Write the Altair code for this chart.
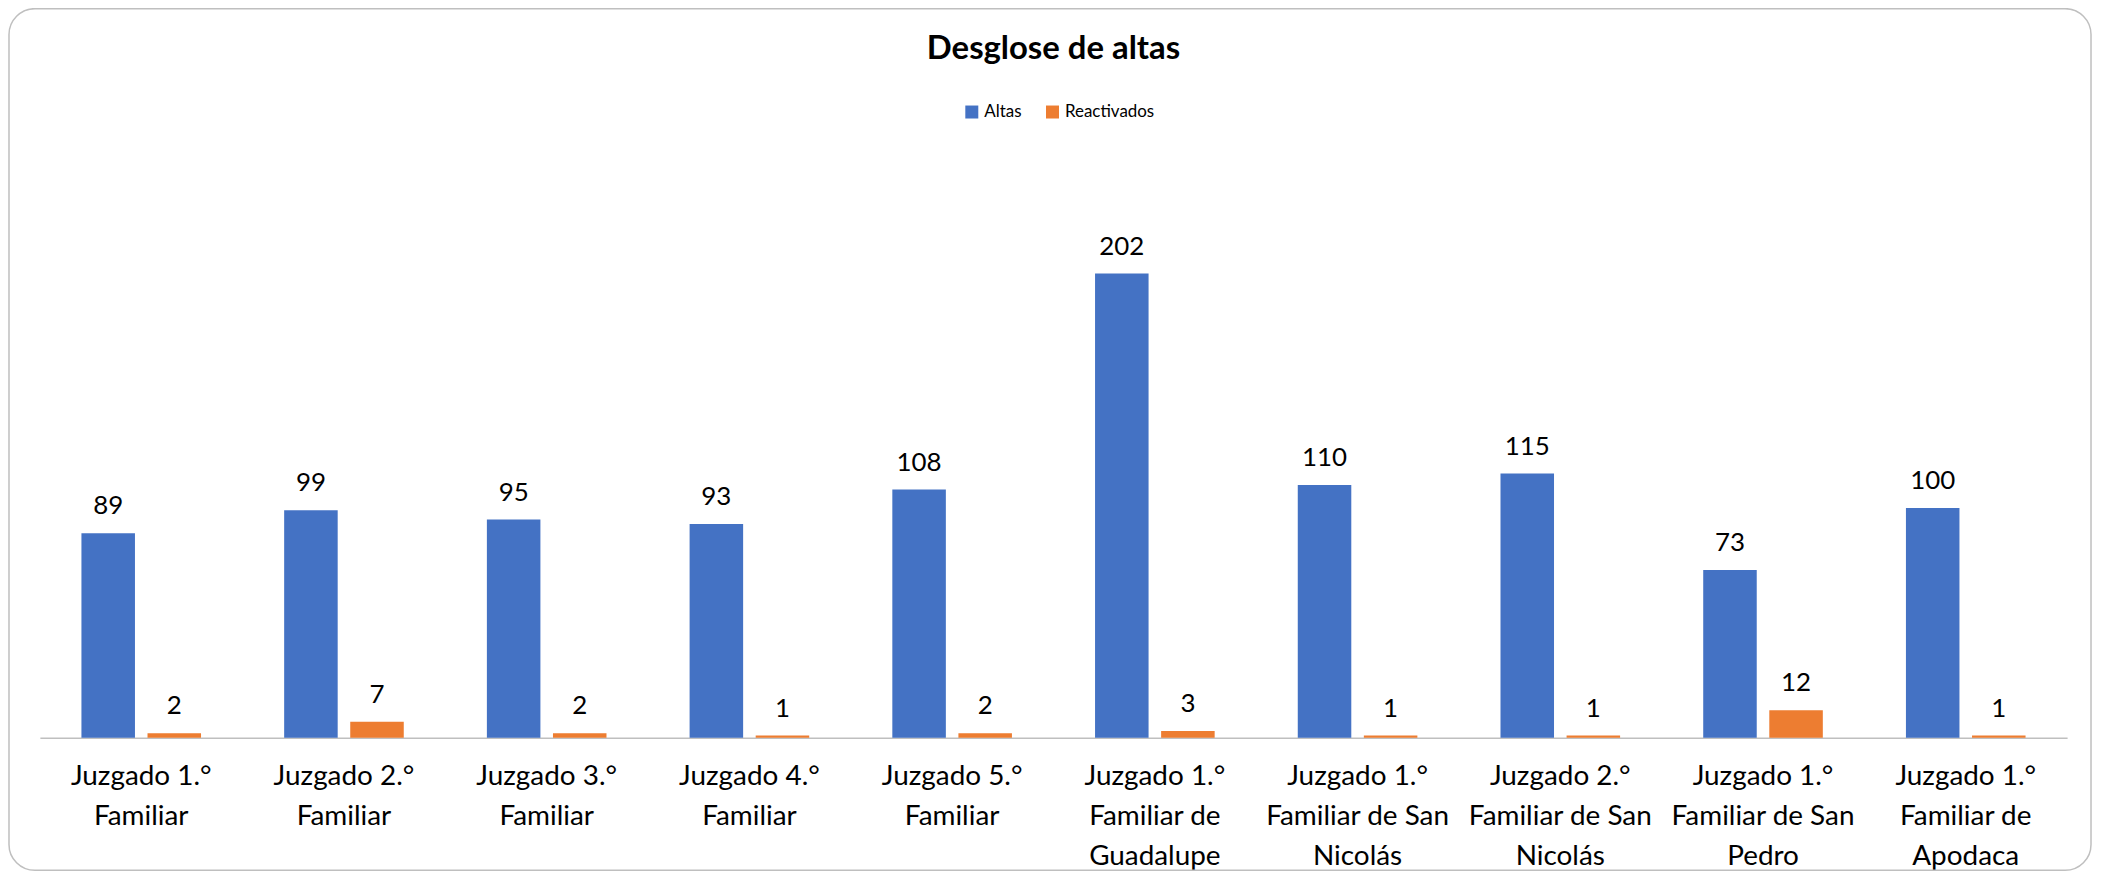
import altair as alt
import pandas as pd

categorias = [
    "Juzgado 1.°|Familiar",
    "Juzgado 2.°|Familiar",
    "Juzgado 3.°|Familiar",
    "Juzgado 4.°|Familiar",
    "Juzgado 5.°|Familiar",
    "Juzgado 1.°|Familiar de|Guadalupe",
    "Juzgado 1.°|Familiar de San|Nicolás",
    "Juzgado 2.°|Familiar de San|Nicolás",
    "Juzgado 1.°|Familiar de San|Pedro",
    "Juzgado 1.°|Familiar de|Apodaca",
]
altas = [89, 99, 95, 93, 108, 202, 110, 115, 73, 100]
reactivados = [2, 7, 2, 1, 2, 3, 1, 1, 12, 1]
series = ["Altas", "Reactivados"]
colores = ["#4472C4", "#ED7D31"]

rows = []
for c, a, r in zip(categorias, altas, reactivados):
    rows.append({"cat": c, "serie": "Altas", "valor": a})
    rows.append({"cat": c, "serie": "Reactivados", "valor": r})
df = pd.DataFrame(rows)

FONT = "Lato"
W, H = 2035, 577

x = alt.X("cat:N", sort=categorias, title=None,
          scale=alt.Scale(paddingInner=0.41, paddingOuter=0.205),
          axis=alt.Axis(labelExpr="split(datum.label, '|')", labelAngle=0,
                        labelFontSize=28, labelFont=FONT, labelColor="#000000",
                        labelLineHeight=40, labelPadding=25, labelBaseline="top",
                        ticks=False, domainColor="#BFBFBF", domainWidth=1.5,
                        grid=False, labelLimit=400))
xoff = alt.XOffset("serie:N", sort=series, scale=alt.Scale(paddingInner=0.19, paddingOuter=0))
y = alt.Y("valor:Q", scale=alt.Scale(domain=[0, 250]), axis=None)
color = alt.Color("serie:N", sort=series,
                  scale=alt.Scale(domain=series, range=colores),
                  legend=alt.Legend(title=None, orient="none", direction="horizontal",
                                    legendX=927, legendY=-60, symbolType="square",
                                    symbolSize=170, symbolStrokeWidth=0,
                                    labelFontSize=17, labelFont=FONT, labelColor="#000000",
                                    columnPadding=22, labelOffset=4))

base = alt.Chart(df)
bars = base.mark_bar().encode(x=x, xOffset=xoff, y=y, color=color)
labels = base.mark_text(baseline="bottom", dy=-14, fontSize=26, font=FONT, color="#000000").encode(
    x=x, xOffset=xoff, y=y, text="valor:Q")

border_df = pd.DataFrame({"k": [0]})
border = alt.Chart(border_df).mark_rect(
    fill=None, stroke="#BFBFBF", strokeWidth=1.5, cornerRadius=26, clip=False
).encode(x=alt.value(-31), x2=alt.value(2059), y=alt.value(-155), y2=alt.value(710))

chart = alt.layer(border, bars, labels).properties(
    width=W, height=H,
    title=alt.TitleParams("Desglose de altas", fontSize=33, font=FONT, fontWeight="bold",
                          color="#000000", anchor="middle", offset=-58),
    padding={"left": 32, "top": 154, "right": 27, "bottom": 138},
    autosize=alt.AutoSizeParams(type="none"),
).configure_view(stroke=None)

chart.save("out.html", embed_options={"renderer": "svg", "actions": False})
